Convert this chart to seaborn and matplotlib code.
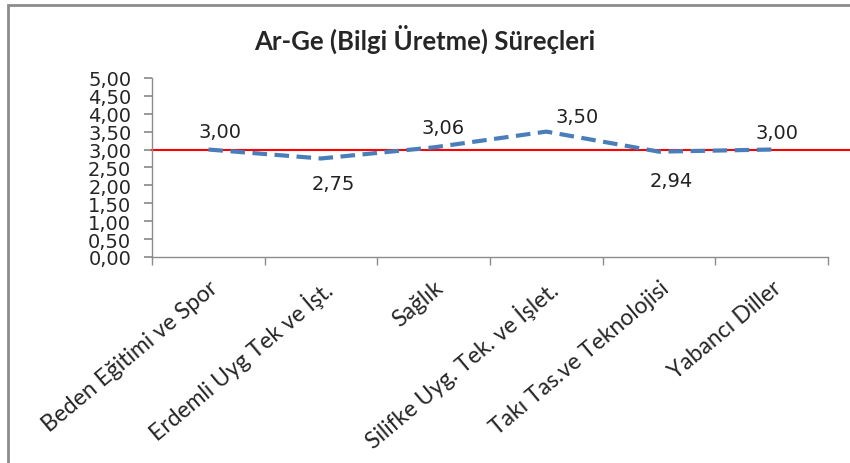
import matplotlib
matplotlib.use("Agg")
import matplotlib.pyplot as plt
from matplotlib.patches import Rectangle
import pandas as pd
import seaborn as sns

# values
categories = ["Beden Eğitimi ve Spor", "Erdemli Uyg Tek ve İşt.", "Sağlık",
              "Silifke Uyg. Tek. ve İşlet.", "Takı Tas.ve Teknolojisi", "Yabancı Diller"]
scores = [3.00, 2.75, 3.06, 3.50, 2.94, 3.00]
reference_level = 3.00
yticks = [0.0, 0.5, 1.0, 1.5, 2.0, 2.5, 3.0, 3.5, 4.0, 4.5, 5.0]

# label placement (points), roughly as Excel put them
label_offsets = [(8, 13), (9, -18), (7, 14), (22, 11), (9, -21), (4, 12)]

sns.set_theme(style="white")
plt.rcParams["font.family"] = ["DejaVu Sans"]

df = pd.DataFrame({"pos": range(len(categories)), "score": scores})

fig = plt.figure(figsize=(8.5, 4.64), dpi=100)
ax = fig.add_axes([0.179, 0.444, 0.795, 0.386])

# outer chart border
fig.patches.append(Rectangle((0.0095, -0.1), 1.2, 1.087, transform=fig.transFigure,
                             fill=False, edgecolor="#8c8c8c", linewidth=2))

ax.axhline(reference_level, xmin=0, xmax=1.05, color="#ff0000", linewidth=1.5,
           clip_on=False, zorder=2)
sns.lineplot(data=df, x="pos", y="score", ax=ax, color="#4a7ebb", linewidth=3,
             zorder=3)
ax.lines[-1].set_dashes([3.5, 1.8])

for i, v in enumerate(scores):
    dx, dy = label_offsets[i]
    ax.annotate(f"{v:.2f}".replace(".", ","), (i, v), xytext=(dx, dy),
                textcoords="offset points", ha="center", va="center",
                fontsize=14, color="#222222")

ax.set_xlim(-0.5, len(categories) - 0.5)
ax.set_ylim(0, 5)
ax.set_yticks(yticks)
ax.set_yticklabels([f"{t:.2f}".replace(".", ",") for t in yticks], fontsize=14)
ax.set_xticks(range(len(categories)))
ax.set_xticklabels(categories, rotation=40, ha="right", rotation_mode="anchor",
                   fontsize=16.5, family=["Lato", "DejaVu Sans"])
ax.set_xticks([p - 0.5 for p in range(len(categories) + 1)], minor=True)
ax.tick_params(axis="x", which="major", length=0, pad=14)
ax.tick_params(axis="x", which="minor", length=6, color="#8c8c8c", direction="out",
               bottom=True)
ax.tick_params(axis="y", length=6, color="#8c8c8c", direction="out", left=True, pad=9)
ax.set_xlabel("")
ax.set_ylabel("")

for side in ["top", "right"]:
    ax.spines[side].set_visible(False)
for side in ["left", "bottom"]:
    ax.spines[side].set_color("#8c8c8c")
    ax.spines[side].set_linewidth(1)

fig.text(0.5, 0.915, "Ar-Ge (Bilgi Üretme) Süreçleri", ha="center", va="center",
         fontsize=18.5, fontweight="bold", family=["Lato", "DejaVu Sans"])

fig.savefig("out.png", dpi=100)
